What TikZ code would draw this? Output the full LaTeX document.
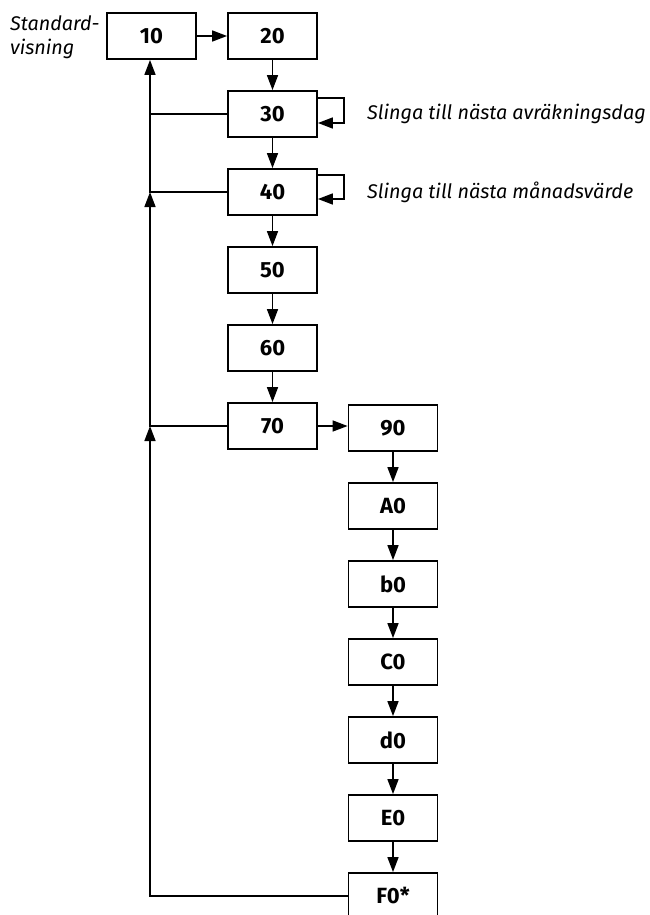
\documentclass[tikz,border=0pt]{standalone}
\usepackage{fontspec}
\setmainfont{Fira Sans}
\usetikzlibrary{arrows.meta}
\begin{document}
\begin{tikzpicture}[x=1pt,y=-1pt,
 box/.style={draw, line width=1.8pt, minimum width=89pt, minimum height=46pt, inner sep=0pt, font=\fontsize{22}{22}\selectfont\bfseries},
 conn/.style={line width=1.5pt},
 arr/.style={conn, -{Triangle[length=15pt,width=11pt]}},
 note/.style={font=\fontsize{19.8}{24}\selectfont\itshape, anchor=west, inner sep=0pt, align=left}]
\clip (0,0) rectangle (650,915);
\node[box] (n10) at (151.5,36) {10};
\node[box] (n20) at (272.5,36) {20};
\node[box] (n30) at (272.5,114) {30};
\node[box] (n40) at (272.5,192) {40};
\node[box] (n50) at (272.5,270) {50};
\node[box] (n60) at (272.5,348) {60};
\node[box] (n70) at (272.5,426) {70};
\node[box] (n90) at (393,428) {90};
\node[box] (nA0) at (393,506) {A0};
\node[box] (nb0) at (393,584) {b0};
\node[box] (nC0) at (393,662) {C0};
\node[box] (nd0) at (393,740) {d0};
\node[box] (nE0) at (393,818) {E0};
\node[box] (nF0) at (393,896) {F0*};
\node[note] (std) at (10,37) {Standard-\\visning};
\node[note] (s30) at (367,114) {Slinga till nästa avräkningsdag};
\node[note] (s40) at (367,192) {Slinga till nästa månadsvärde};
\coordinate (trunk) at (150,0);
\coordinate (l30a) at (344,98);
\coordinate (l30b) at (344,123);
\coordinate (l40a) at (344,175);
\coordinate (l40b) at (344,199);
\draw[arr] (n10) -- (n20);
\draw[arr] (n20) -- (n30);
\draw[arr] (n30) -- (n40);
\draw[arr] (n40) -- (n50);
\draw[arr] (n50) -- (n60);
\draw[arr] (n60) -- (n70);
\draw[arr] (n70.east) -- (n70.east -| n90.west);
\draw[arr] (n90) -- (nA0);
\draw[arr] (nA0) -- (nb0);
\draw[arr] (nb0) -- (nC0);
\draw[arr] (nC0) -- (nd0);
\draw[arr] (nd0) -- (nE0);
\draw[arr] (nE0) -- (nF0);
\draw[arr] (n30.east |- l30a) -- (l30a) -- (l30b) -- (n30.east |- l30b);
\draw[arr] (n40.east |- l40a) -- (l40a) -- (l40b) -- (n40.east |- l40b);
\draw[conn] (n30.west) -- (n30.west -| trunk);
\draw[arr] (n40.west) -- (n40.west -| trunk) -- (trunk |- n10.south);
\draw[arr] (n70.west) -- (n70.west -| trunk) -- (n40.west -| trunk);
\draw[arr] (nF0.west) -- (nF0.west -| trunk) -- (n70.west -| trunk);
\end{tikzpicture}
\end{document}
